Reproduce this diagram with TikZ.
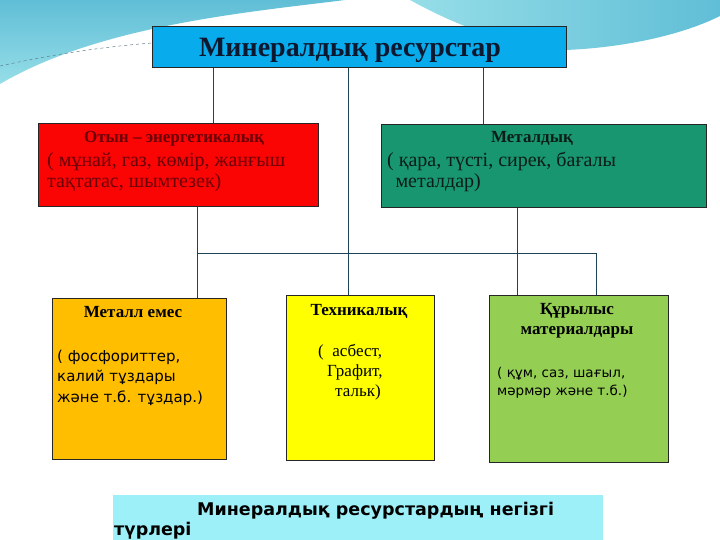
\documentclass[tikz,border=0pt]{standalone}
\usepackage{fontspec}
\setmainfont{Liberation Serif}
\newfontfamily\plainsans{DejaVu Sans}
\usetikzlibrary{positioning,calc}
\definecolor{TitleBlue}{RGB}{8,172,236}
\definecolor{TitleInk}{RGB}{12,24,48}
\definecolor{FuelRed}{RGB}{250,4,4}
\definecolor{FuelInk}{RGB}{105,0,8}
\definecolor{MetalGreen}{RGB}{24,150,112}
\definecolor{MetalInk}{RGB}{12,28,22}
\definecolor{NonMetalOrange}{RGB}{255,190,0}
\definecolor{TechYellow}{RGB}{255,255,0}
\definecolor{BuildLime}{RGB}{148,206,82}
\definecolor{CaptionCyan}{RGB}{158,240,248}
\definecolor{LinkTeal}{RGB}{28,68,86}
\definecolor{SkyDeep}{RGB}{96,190,214}
\definecolor{SkyLight}{RGB}{150,222,232}
\tikzset{
  catbox/.style={draw=black!85, line width=0.9pt, inner sep=0pt, anchor=north west},
  link/.style={draw=LinkTeal, line width=0.9pt},
  headtext/.style={font=\bfseries\fontsize{17}{20}\selectfont, anchor=base, inner sep=0pt},
  bodytext/.style={align=left, anchor=base west, inner sep=0pt},
  serifbody/.style={bodytext, font=\fontsize{20}{21}\selectfont},
  sansbody/.style={bodytext, font=\plainsans\fontsize{15}{20.5}\selectfont}
}

\begin{document}
\begin{tikzpicture}[x=1pt,y=-1pt]
  \useasboundingbox (0,0) rectangle (720,540);
  % background swooshes
  \fill[white] (0,0) rectangle (720,540);
  \shade[top color=SkyDeep, bottom color=SkyLight] (0,0) -- (345,0)
    .. controls (250,12) and (100,25) .. (0,84) -- cycle;
  \shade[left color=SkyLight, right color=SkyDeep] (410,0) -- (720,0) -- (720,16)
    .. controls (680,36) and (620,48) .. (565,50)
    .. controls (500,44) and (450,22) .. (410,0) -- cycle;
  \draw[LinkTeal!70, dashed, line width=0.5pt] (0,66) .. controls (50,55) and (100,47) .. (152,43);

  % boxes
  \node[catbox, fill=TitleBlue, minimum width=414pt, minimum height=41pt] (title) at (152,26) {};
  \node[catbox, fill=FuelRed, minimum width=280pt, minimum height=83pt] (fuel) at (38,123) {};
  \node[catbox, fill=MetalGreen, minimum width=325pt, minimum height=83pt] (metal) at (381,124) {};
  \node[catbox, fill=NonMetalOrange, minimum width=174pt, minimum height=161pt] (nonmetal) at (52,298) {};
  \node[catbox, fill=TechYellow, minimum width=148pt, minimum height=165pt] (tech) at (286,295) {};
  \node[catbox, fill=BuildLime, minimum width=179pt, minimum height=167pt] (build) at (489,295) {};
  \fill[CaptionCyan] (113,495) rectangle (603,545);

  % connectors
  \coordinate (tapA) at (213,0);
  \coordinate (tapB) at (348,0);
  \coordinate (tapC) at (483,0);
  \coordinate (busL) at (197,253);
  \coordinate (busM) at (517,253);
  \coordinate (busR) at (596,253);
  \draw[link] (title.south -| tapA) -- (fuel.north -| tapA);
  \draw[link] (title.south -| tapB) -- (tech.north -| tapB);
  \draw[link] (title.south -| tapC) -- (metal.north -| tapC);
  \draw[link] (fuel.south -| busL) -- (nonmetal.north -| busL);
  \draw[link] (busL) -- (busR) -- (build.north -| busR);
  \draw[link] (metal.south -| busM) -- (build.north -| busM);

  % texts (multi-line nodes sit on the baseline of their last line)
  \node[font=\bfseries\fontsize{28}{30}\selectfont, text=TitleInk, anchor=base] (titletext) at (350,57) {Минералдық ресурстар};
  \node[headtext, text=FuelInk] (fuelhead) at (174,143) {Отын – энергетикалық};
  \node[serifbody, text=FuelInk] (fuelbody) at (47,188) {( мұнай, газ, көмір, жанғыш\\тақтатас, шымтезек)};
  \node[headtext, text=MetalInk] (metalhead) at (532,143) {Металдық};
  \node[serifbody, text=MetalInk] (metalbody) at (387,188) {( қара, түсті, сирек, бағалы\\\ \,металдар)};
  \node[headtext] (nonmetalhead) at (133,317) {Металл емес};
  \node[sansbody] (nonmetalbody) at (57,402) {( фосфориттер,\\калий тұздары\\және т.б. тұздар.)};
  \node[headtext] (techhead) at (359,315) {Техникалық};
  \node[bodytext, font=\fontsize{17}{20}\selectfont] (techbody) at (318,396) {(\ \ асбест,\\\hspace*{9pt}Графит,\\\hspace*{17pt}тальк)};
  \node[headtext, align=center, font=\bfseries\fontsize{17}{20}\selectfont] (buildhead) at (577,334) {Құрылыс\\материалдары};
  \node[sansbody, font=\plainsans\fontsize{13.5}{18}\selectfont] (buildbody) at (497,395) {( құм, саз, шағыл,\\мәрмәр және т.б.)};
  \node[bodytext, font=\plainsans\bfseries\fontsize{17.5}{20}\selectfont] (captiontext) at (114,535) {\hspace*{83pt}Минералдық ресурстардың негізгі\\түрлері};
\end{tikzpicture}
\end{document}
